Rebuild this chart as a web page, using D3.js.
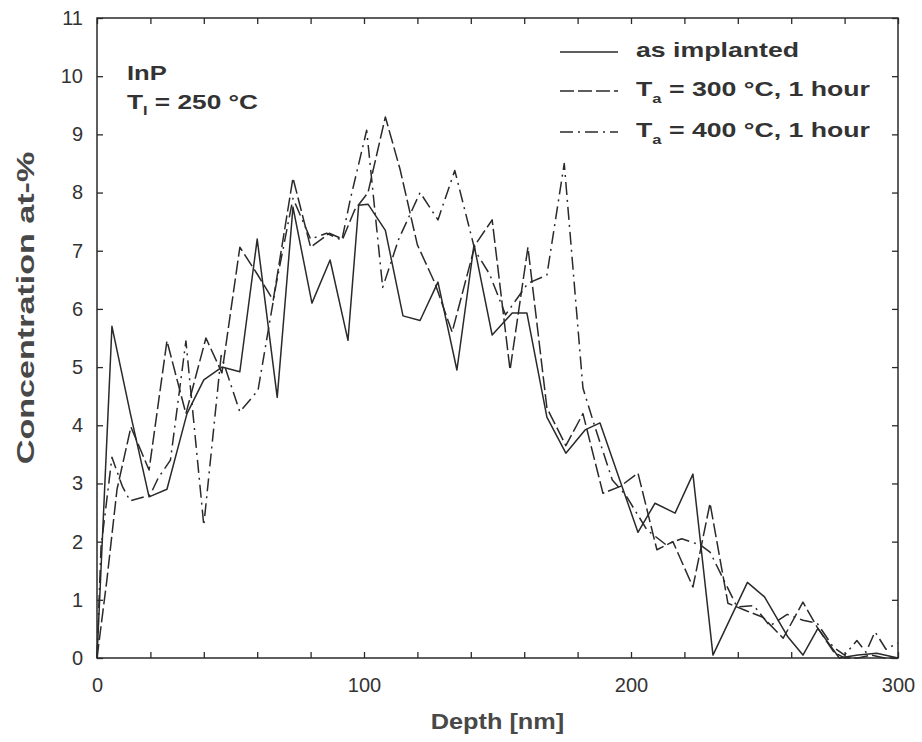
<!DOCTYPE html>
<html>
<head>
<meta charset="utf-8">
<script src="https://cdn.jsdelivr.net/npm/d3@7/dist/d3.min.js"></script>
<style>
    body { margin: 0; background: #fff; }
    svg { display: block; font-family: "Liberation Sans", Arial, sans-serif; }
</style>
</head>
<body>
<div id="chart"></div>
<script>
// as implanted (solid)
const depthImplanted = [0, 5.6, 12.5, 19.5, 26.2, 33.7, 40, 46.8, 53.5, 60, 67.5, 73.4, 80.5, 87.3, 94, 98, 101.5, 108, 114.6, 121, 127.7, 134.8, 141.2, 148, 155.5, 161, 168.5, 175.6, 182.8, 188.4, 195.5, 202.6, 209, 216.5, 223.2, 230.7, 243.6, 250, 258.8, 264.4, 270, 278, 285, 292, 300];
const concImplanted = [0, 5.7, 4.2, 2.77, 2.9, 4.2, 4.78, 5.0, 4.92, 7.2, 4.48, 7.75, 6.1, 6.84, 5.46, 7.78, 7.8, 7.35, 5.88, 5.8, 6.46, 4.95, 7.1, 5.55, 5.93, 5.93, 4.14, 3.52, 3.92, 4.04, 3.1, 2.16, 2.66, 2.49, 3.16, 0.05, 1.3, 1.05, 0.36, 0.05, 0.51, 0.0, 0.05, 0.08, 0.0];

// Ta = 300 °C (dashed)
const depth300 = [0, 3.7, 7.5, 12.7, 19.5, 26.2, 33.3, 40.8, 46.8, 53.5, 60, 66, 73.4, 80, 87, 92, 96.5, 101.5, 108, 113.5, 120, 126.6, 133, 141.6, 148, 154.7, 161.4, 168.5, 175.6, 182, 189.5, 196, 202.6, 209.7, 215.7, 223.2, 229.6, 236.3, 242.7, 249.4, 257, 264.4, 269.7, 276, 280, 285, 290, 295, 300];
const conc300 = [0, 1.34, 2.9, 3.97, 3.23, 5.45, 4.2, 5.5, 4.9, 7.06, 6.6, 6.15, 8.25, 7.06, 7.3, 7.2, 7.7, 8.0, 9.3, 8.4, 7.1, 6.44, 5.6, 7.1, 7.53, 4.95, 7.06, 4.3, 3.65, 4.2, 2.83, 2.95, 3.18, 1.86, 2.0, 1.22, 2.66, 0.94, 0.82, 0.7, 0.34, 0.96, 0.53, 0.1, 0.0, 0.0, 0.05, 0.0, 0.0];

// Ta = 400 °C (dash-dot)
const depth400 = [0, 1.5, 5.6, 9.5, 12.4, 19.9, 23, 27.5, 33.3, 40, 46.5, 53.5, 60.3, 67, 73.4, 80, 86, 91.7, 94.8, 101, 107, 113, 121, 127.7, 134, 141.6, 147, 153, 161.4, 168.5, 175, 182, 186.5, 193, 198, 206, 213, 219, 226, 229.6, 239.7, 246, 252, 258.5, 264.4, 269.7, 275.7, 280, 284.6, 288, 291.4, 295.5, 300];
const conc400 = [0, 1.9, 3.45, 2.95, 2.7, 2.8, 3.1, 3.4, 5.45, 2.28, 5.2, 4.23, 4.6, 6.4, 7.9, 7.2, 7.3, 7.18, 7.87, 9.07, 6.37, 7.2, 8.0, 7.53, 8.38, 7.0, 6.6, 5.9, 6.44, 6.58, 8.5, 4.64, 3.97, 3.06, 2.8, 2.2, 1.95, 2.05, 1.94, 1.82, 0.88, 0.9, 0.55, 0.75, 0.65, 0.6, 0.19, 0.05, 0.3, 0.1, 0.45, 0.15, 0.26];

const xTickValues = d3.range(0, 301, 20);
const xLabelValues = [0, 100, 200, 300];
const yTickValues = d3.range(0, 12, 1);

const seriesNames = ['as implanted', '300', '400'];

const width = 922, height = 742;
const margin = { top: 18, right: 24, bottom: 84, left: 97 };
const innerW = width - margin.left - margin.right;
const innerH = height - margin.top - margin.bottom;
const ink = '#2a2a2a';
const textColor = '#333';

const svg = d3.select('#chart').append('svg')
    .attr('width', width)
    .attr('height', height);

const g = svg.append('g')
    .attr('transform', `translate(${margin.left},${margin.top})`);

const x = d3.scaleLinear().domain([0, 300]).range([0, innerW]);
const y = d3.scaleLinear().domain([0, 11]).range([innerH, 0]);

// Frame
g.append('rect')
    .attr('width', innerW)
    .attr('height', innerH)
    .attr('fill', 'none')
    .attr('stroke', ink)
    .attr('stroke-width', 1.5);

// Axes with inward ticks
const fmtX = d => xLabelValues.includes(d) ? d : '';
const xAxisB = g.append('g').attr('transform', `translate(0,${innerH})`)
    .call(d3.axisBottom(x).tickValues(xTickValues).tickSize(-6).tickPadding(20).tickFormat(fmtX));
const xAxisT = g.append('g')
    .call(d3.axisTop(x).tickValues(xTickValues).tickSize(-6).tickFormat(''));
const yAxisL = g.append('g')
    .call(d3.axisLeft(y).tickValues(yTickValues).tickSize(-6).tickPadding(14));
const yAxisR = g.append('g').attr('transform', `translate(${innerW},0)`)
    .call(d3.axisRight(y).tickValues(yTickValues).tickSize(-6).tickFormat(''));

[xAxisB, xAxisT, yAxisL, yAxisR].forEach(a => {
    a.select('.domain').remove();
    a.selectAll('line').attr('stroke', ink).attr('stroke-width', 1.3);
    a.selectAll('text')
        .attr('fill', textColor)
        .style('font-size', '20px')
        .style('font-family', '"Liberation Sans", Arial, sans-serif');
});

// Lines
const line = d3.line().x(d => x(d[0])).y(d => y(d[1]));
const zip = (a, b) => a.map((v, i) => [v, b[i]]);

const series = [
    { name: seriesNames[0], data: zip(depthImplanted, concImplanted), dash: null },
    { name: seriesNames[1], data: zip(depth300, conc300), dash: '14,4' },
    { name: seriesNames[2], data: zip(depth400, conc400), dash: '13,5,2,5' }
];

series.forEach(s => {
    g.append('path')
        .datum(s.data)
        .attr('d', line)
        .attr('fill', 'none')
        .attr('stroke', ink)
        .attr('stroke-width', 1.5)
        .attr('stroke-linejoin', 'round')
        .attr('stroke-dasharray', s.dash);
});

// the scanned original uses a wide bold face, so stretch bold text horizontally
const wideText = (parent, tx, ty, sx, extra = '') => parent.append('text')
    .attr('transform', `translate(${tx},${ty}) ${extra} scale(${sx},1)`);

// Axis titles
wideText(svg, margin.left + innerW / 2, 729, 1.15)
    .attr('text-anchor', 'middle')
    .attr('fill', '#484848')
    .style('font-size', '22px')
    .style('font-weight', 'bold')
    .text('Depth [nm]');

wideText(svg, 34, 308, 1.42, 'rotate(-90)')
    .attr('text-anchor', 'middle')
    .attr('fill', '#484848')
    .style('font-size', '24px')
    .style('font-weight', 'bold')
    .text('Concentration at-%');

// Sample annotation
const note = svg.append('g')
    .attr('fill', textColor)
    .style('font-size', '21px')
    .style('font-weight', 'bold');
wideText(note, 127, 80, 1.22).text('InP');
const ti = wideText(note, 127, 109, 1.25);
ti.append('tspan').text('T');
ti.append('tspan').attr('dy', 6).style('font-size', '13px').text('I');
ti.append('tspan').attr('dy', -6).text(' = 250 °C');

// Legend
const legend = svg.append('g')
    .style('font-size', '21px')
    .style('font-weight', 'bold')
    .attr('fill', textColor);

const legendRows = [57, 96, 137];
series.forEach((s, i) => {
    const by = legendRows[i];
    legend.append('line')
        .attr('x1', 560).attr('x2', 618)
        .attr('y1', by - 5).attr('y2', by - 5)
        .attr('stroke', ink)
        .attr('stroke-width', 1.5)
        .attr('stroke-dasharray', s.dash);
    const t = wideText(legend, 636, by, 1.27);
    if (i === 0) {
        t.text(s.name);
    } else {
        t.append('tspan').text('T');
        t.append('tspan').attr('dy', 7).style('font-size', '13px').text('a');
        t.append('tspan').attr('dy', -7).text(` = ${s.name} °C, 1 hour`);
    }
});
</script>
</body>
</html>
